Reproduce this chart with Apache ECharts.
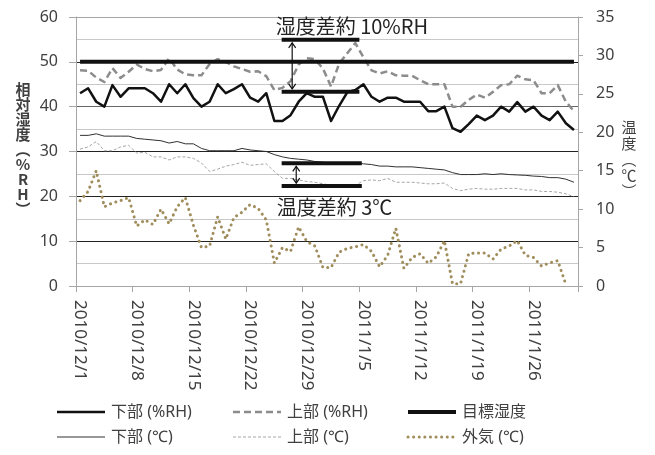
<!DOCTYPE html>
<html><head><meta charset="utf-8">
<script src="https://cdn.jsdelivr.net/npm/echarts@6/dist/echarts.min.js"></script>
<style>html,body{margin:0;padding:0;background:#fff}#c{width:655px;height:455px}</style>
</head><body><div id="c"></div><script>
const categories = [
'2010/12/1','2010/12/2','2010/12/3','2010/12/4','2010/12/5','2010/12/6','2010/12/7','2010/12/8','2010/12/9','2010/12/10',
'2010/12/11','2010/12/12','2010/12/13','2010/12/14','2010/12/15','2010/12/16','2010/12/17','2010/12/18','2010/12/19','2010/12/20',
'2010/12/21','2010/12/22','2010/12/23','2010/12/24','2010/12/25','2010/12/26','2010/12/27','2010/12/28','2010/12/29','2010/12/30',
'2010/12/31','2011/1/1','2011/1/2','2011/1/3','2011/1/4','2011/1/5','2011/1/6','2011/1/7','2011/1/8','2011/1/9',
'2011/1/10','2011/1/11','2011/1/12','2011/1/13','2011/1/14','2011/1/15','2011/1/16','2011/1/17','2011/1/18','2011/1/19',
'2011/1/20','2011/1/21','2011/1/22','2011/1/23','2011/1/24','2011/1/25','2011/1/26','2011/1/27','2011/1/28','2011/1/29',
'2011/1/30','2011/1/31'];

const lowerRH = [43.0,44.1,41.1,40.0,44.8,42.2,44.1,44.1,44.1,43.0,
41.1,45.0,43.0,45.0,41.9,40.0,41.1,45.0,43.0,43.9,
45.0,42.0,41.1,43.0,36.8,36.8,38.1,41.1,43.0,42.2,
42.2,36.8,40.2,43.2,43.7,45.0,42.2,41.1,42.0,42.0,
41.1,41.1,41.1,39.0,39.0,40.0,35.2,34.4,36.1,38.0,
37.0,38.0,40.0,38.9,41.0,38.9,40.0,38.0,37.0,38.9,
36.3,34.8];

const upperRH = [48.1,48.0,46.5,45.5,48.6,46.4,47.8,49.4,48.4,47.9,
48.2,50.8,48.3,47.2,47.0,47.0,49.5,50.6,50.0,49.0,
48.4,47.8,47.9,46.8,43.7,44.2,45.7,49.4,50.8,50.6,
48.5,44.5,49.6,51.9,54.2,51.0,48.1,47.4,47.9,47.0,
46.9,46.9,45.9,45.0,45.0,45.0,40.0,40.0,41.5,42.7,
42.0,43.3,44.8,45.0,46.9,46.1,45.9,43.0,43.0,44.8,
41.1,39.0];

const targetRH = [50,50,50,50,50,50,50,50,50,50,
50,50,50,50,50,50,50,50,50,50,
50,50,50,50,50,50,50,50,50,50,
50,50,50,50,50,50,50,50,50,50,
50,50,50,50,50,50,50,50,50,50,
50,50,50,50,50,50,50,50,50,50,
50,50];

const lowerTemp = [19.6,19.6,19.8,19.5,19.5,19.5,19.5,19.2,19.1,19.0,
18.9,18.6,18.8,18.5,18.5,17.9,17.6,17.6,17.6,17.6,
17.9,17.7,17.6,17.5,17.1,16.8,16.6,16.5,16.4,16.2,
16.1,16.0,16.0,16.0,16.0,15.9,15.8,15.6,15.6,15.5,
15.5,15.5,15.4,15.3,15.2,15.1,14.75,14.5,14.5,14.5,
14.6,14.5,14.6,14.5,14.45,14.4,14.3,14.25,14.1,14.1,
13.9,13.5];

const upperTemp = [17.8,18.1,18.8,17.6,17.6,18.1,18.3,17.3,17.4,16.8,
16.8,16.4,16.8,16.8,16.6,16.0,14.9,15.2,15.6,15.8,
16.1,15.7,15.8,15.9,14.9,14.0,14.0,13.8,13.6,13.5,
13.3,13.1,13.0,13.0,13.1,13.7,13.8,13.7,14.0,13.5,
13.5,13.5,13.4,13.3,13.3,13.4,12.7,12.4,12.6,12.7,
12.6,12.6,12.7,12.7,12.7,12.5,12.5,12.3,12.3,12.2,
12.0,11.6];

const outsideTemp = [11.1,12.3,15.0,10.3,10.8,11.1,11.5,7.8,8.6,8.0,
10.0,8.1,10.3,11.5,7.9,5.0,5.2,9.0,6.1,8.9,
9.6,10.6,10.1,8.6,3.0,5.0,4.5,7.7,5.8,5.2,
2.4,2.4,4.4,4.9,5.1,5.4,4.5,2.5,4.0,7.5,
2.3,3.7,4.2,2.95,3.8,5.9,0.3,0.3,4.2,4.3,
4.3,3.5,4.8,5.2,5.9,4.0,3.7,2.6,3.0,3.3,
0.2,null];

// annotation levels (axis values) and spans (category index)
const rhGapLevels = [54.9, 43.3];
const rhGapSpan = [24.9, 34.5];
const rhArrowAt = 26.2;
const tempGapLevels = [15.96, 13.0];
const tempGapSpan = [24.9, 34.8];
const tempArrowAt = 26.7;
const rhGapText = '湿度差約 10%RH';
const tempGapText = '温度差約 3℃';

const FONT = "'Noto Sans', 'Noto Sans CJK JP', sans-serif";
const CJK = "'Noto Sans CJK JP', sans-serif";

const chart = echarts.init(document.getElementById('c'), null, {renderer:'canvas'});

const seriesNames = ['下部 (%RH)','上部 (%RH)','目標湿度','下部 (℃)','上部 (℃)','外気 (℃)'];
const styles = [
  {color:'#111', width:2.5, type:'solid'},
  {color:'#8c8c8c', width:2.5, type:[7,4]},
  {color:'#111', width:4, type:'solid'},
  {color:'#303030', width:1, type:'solid'},
  {color:'#a6a6a6', width:1, type:[3,2]},
  {color:'#a08d5c', width:3, type:[0.1,5.5], cap:'round'}
];
const seriesData = [lowerRH, upperRH, targetRH, lowerTemp, upperTemp, outsideTemp];
const yIdx = [0,0,0,1,1,1];
const legendPos = [[57,412],[233,412],[408,412],[57,437],[233,437],[408,437]];

const option = {
  animation:false,
  backgroundColor:'#fff',
  grid:{left:76, right:77, top:17, bottom:169, containLabel:false},
  xAxis:{
    type:'category', data:categories, boundaryGap:true,
    axisLine:{lineStyle:{color:'#a6a6a6', width:1}},
    axisTick:{show:true, interval:6, length:6, lineStyle:{color:'#a6a6a6'}},
    axisLabel:{interval:6, rotate:-90, margin:14, fontSize:17, color:'#404040', fontFamily:FONT},
    splitLine:{show:false}
  },
  yAxis:[
    {type:'value', min:0, max:60, interval:10, position:'left',
     axisLine:{show:true, lineStyle:{color:'#a6a6a6'}},
     axisTick:{show:true, length:7, lineStyle:{color:'#a6a6a6'}},
     axisLabel:{fontSize:16, color:'#404040', margin:18, fontFamily:FONT},
     splitLine:{show:true, lineStyle:{color:['#a6a6a6','#222','#222','#222','#666','#222','#a6a6a6'], width:1}},
     minorTick:{show:false, splitNumber:2},
     minorSplitLine:{show:true, lineStyle:{color:'#c8c8c8', width:1}}
    },
    {type:'value', min:0, max:35, interval:5, position:'right',
     axisLine:{show:true, lineStyle:{color:'#a6a6a6'}},
     axisTick:{show:true, length:5, lineStyle:{color:'#a6a6a6'}},
     axisLabel:{fontSize:16, color:'#404040', margin:18, fontFamily:FONT},
     splitLine:{show:false}
    }
  ],
  series: seriesNames.map((n,i)=>({
    name:n, type:'line', data:seriesData[i], yAxisIndex:yIdx[i], symbol:'none', showSymbol:false,
    connectNulls:false, z: i===2 ? 3 : 2,
    lineStyle:{color:styles[i].color, width:styles[i].width, type:styles[i].type, cap:styles[i].cap||'butt', join:'round'},
    itemStyle:{color:styles[i].color}
  }))
};
chart.setOption(option);

function xAt(idx){
  const p0 = chart.convertToPixel({xAxisIndex:0}, categories[0]);
  const p1 = chart.convertToPixel({xAxisIndex:0}, categories[1]);
  return p0 + (p1 - p0) * idx;
}
function yL(v){ return chart.convertToPixel({yAxisIndex:0}, v); }
function yR(v){ return chart.convertToPixel({yAxisIndex:1}, v); }

function arrowEls(x, y1, y2){
  const h = 6, w = 3.5, st = {stroke:'#111', lineWidth:1.2, fill:null};
  return [
    {type:'line', shape:{x1:x, y1:y1+1, x2:x, y2:y2-1}, style:st, z:100},
    {type:'polyline', shape:{points:[[x-w,y1+h],[x,y1+1],[x+w,y1+h]]}, style:st, z:100},
    {type:'polyline', shape:{points:[[x-w,y2-h],[x,y2-1],[x+w,y2-h]]}, style:st, z:100}
  ];
}
function barEl(x1, x2, y){
  return {type:'line', shape:{x1:x1, y1:y, x2:x2, y2:y}, style:{stroke:'#111', lineWidth:4}, z:100};
}

const rx1 = xAt(rhGapSpan[0]), rx2 = xAt(rhGapSpan[1]);
const ry1 = yL(rhGapLevels[0]), ry2 = yL(rhGapLevels[1]);
const tx1 = xAt(tempGapSpan[0]), tx2 = xAt(tempGapSpan[1]);
const ty1 = yR(tempGapLevels[0]), ty2 = yR(tempGapLevels[1]);

const legendEls = [];
seriesNames.forEach((n, i) => {
  const [lx, ly] = legendPos[i];
  const s = styles[i];
  const dash = Array.isArray(s.type) ? s.type : null;
  legendEls.push({type:'line', shape:{x1:lx, y1:ly, x2:lx+48, y2:ly}, z:100,
    style:{stroke:s.color, lineWidth:s.width, lineDash:dash, lineCap:s.cap||'butt'}});
  legendEls.push({type:'text', x:lx+54, y:ly, z:100,
    style:{text:n, fontSize:16, fontFamily:FONT, fill:'#404040', verticalAlign:'middle', align:'left'}});
});

const graphics = [
  barEl(rx1, rx2, ry1), barEl(rx1, rx2, ry2),
  ...arrowEls(xAt(rhArrowAt), ry1 + 2, ry2 - 2),
  barEl(tx1, tx2, ty1), barEl(tx1, tx2, ty2),
  ...arrowEls(xAt(tempArrowAt), ty1 + 2, ty2 - 2),
  {type:'text', x: rx1 - 6, y: ry1 - 13, z:101,
   style:{text:rhGapText, fontSize:20, fontFamily:CJK, fill:'#222', verticalAlign:'middle', align:'left'}},
  {type:'text', x: tx1 - 5, y: ty2 + 21, z:101,
   style:{text:tempGapText, fontSize:20, fontFamily:CJK, fill:'#222', verticalAlign:'middle', align:'left'}},
  {type:'text', x: 23, y: 82, z:101,
   style:{text:'相\n対\n湿\n度\n︵\n%\nR\nH\n︶', fontSize:15, fontWeight:'bold', lineHeight:15, fontFamily:CJK, fill:'#404040', align:'center', verticalAlign:'top'}},
  {type:'text', x: 629, y: 119, z:101,
   style:{text:'温\n度\n︵\n℃\n︶', fontSize:15, lineHeight:16, fontFamily:CJK, fill:'#404040', align:'center', verticalAlign:'top'}},
  ...legendEls
];
chart.setOption({graphic: graphics});
</script></body></html>
